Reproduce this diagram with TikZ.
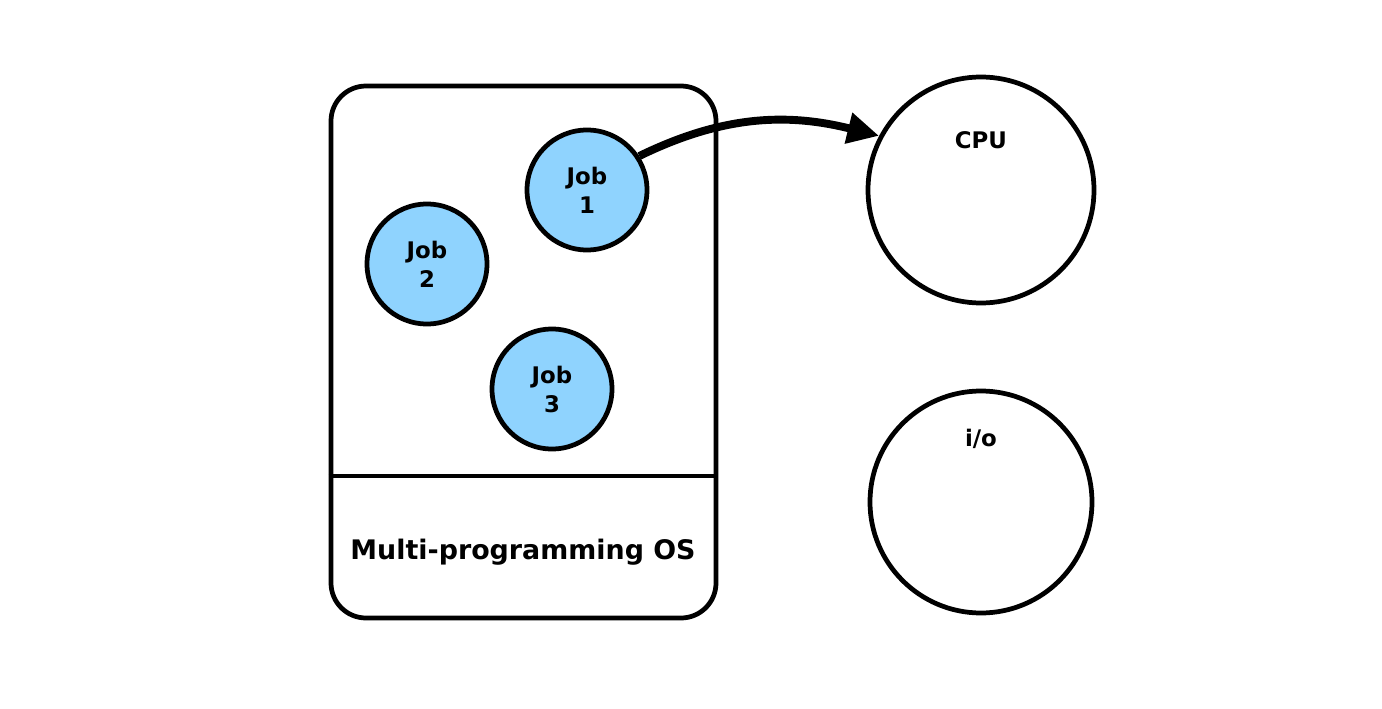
\documentclass[tikz,border=0pt]{standalone}
\usepackage{fontspec}
\setmainfont{DejaVu Sans}
\usepackage{xcolor}
\usepackage{tikz}
\usetikzlibrary{positioning, arrows.meta}

\definecolor{jobblue}{HTML}{8FD3FE}

\begin{document}
\begin{tikzpicture}[
    outline/.style={draw, line width=2.7pt},
    osbox/.style={outline, rectangle, rounded corners=0.7cm, minimum width=7.7cm, minimum height=10.64cm},
    job/.style={outline, circle, fill=jobblue, minimum size=2.4cm, align=center, font=\bfseries\fontsize{13}{16.5}\selectfont},
    unit/.style={outline, circle},
    lbl/.style={font=\bfseries\fontsize{13}{15}\selectfont},
    arrow/.style={-{Triangle[length=18pt, width=17pt]}, line width=4.5pt}
]
\useasboundingbox (0,0) rectangle (27.64,14.16);

% memory with the jobs
\node[osbox] (os) at (10.47,7.12) {};
\coordinate (split) at (10.47,4.64);
\draw[outline] (os.west |- split) -- (os.east |- split);
\node[font=\bfseries\fontsize{15.3}{18}\selectfont] (oslbl) at (10.46,3.12) {Multi-programming OS};

\node[job] (job1) at (11.74,10.36) {Job\\1};
\node[job] (job2) at (8.54,8.88) {Job\\2};
\node[job] (job3) at (11.04,6.38) {Job\\3};

% processor and devices
\node[unit, minimum size=4.52cm] (cpu) at (19.62,10.36) {};
\node[unit, minimum size=4.44cm] (io) at (19.62,4.12) {};
\node[lbl] (cpulbl) at (19.62,11.36) {CPU};
\node[lbl] (iolbl) at (19.62,5.38) {i/o};

\draw[arrow] (job1.33) to[out=26, in=166] (cpu.152);
\end{tikzpicture}
\end{document}
